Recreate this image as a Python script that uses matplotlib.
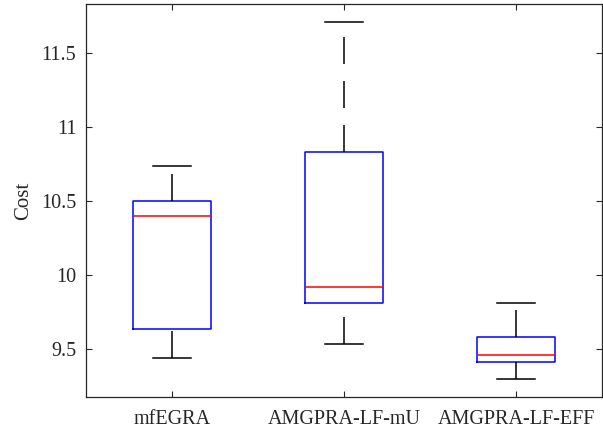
import numpy as np
import matplotlib
matplotlib.use('Agg')
import matplotlib.pyplot as plt

# box statistics
labels = ['mfEGRA', 'AMGPRA-LF-mU', 'AMGPRA-LF-EFF']
whislo = [9.437, 9.536, 9.295]
q1 = [9.633, 9.811, 9.410]
med = [10.397, 9.919, 9.459]
q3 = [10.500, 10.827, 9.579]
whishi = [10.734, 11.709, 9.813]

plt.rcParams['font.family'] = ['Liberation Serif', 'DejaVu Serif']
plt.rcParams['lines.scale_dashes'] = False

fig = plt.figure(figsize=(6.03, 4.36), dpi=100)
ax = fig.add_axes([86 / 603, 1 - 397 / 436, 516 / 603, 393 / 436])

stats = []
for i in range(len(labels)):
    stats.append(dict(label=labels[i], whislo=whislo[i], q1=q1[i], med=med[i],
                      q3=q3[i], whishi=whishi[i], fliers=[]))

px = 0.72  # points per pixel at 100 dpi
bp = ax.bxp(stats, positions=[1, 2, 3], widths=0.452, showfliers=False,
            boxprops=dict(color='#0000ff', linewidth=1.1),
            medianprops=dict(color='#ff0000', linewidth=1.1),
            whiskerprops=dict(color='black', linewidth=1.1,
                              linestyle=(0, (27 * px, 17 * px))),
            capprops=dict(color='black', linewidth=1.1))

# MATLAB draws the lower whisker from the cap towards the box
for k, w in enumerate(bp['whiskers']):
    if k % 2 == 0:
        w.set_ydata(w.get_ydata()[::-1])

ax.set_xlim(0.5, 3.5)
ax.set_ylim(9.176, 11.829)
ax.set_yticks([9.5, 10, 10.5, 11, 11.5])
ax.set_yticklabels(['9.5', '10', '10.5', '11', '11.5'])
ax.set_xticks([1, 2, 3])
ax.set_xticklabels(labels)
ax.set_ylabel('Cost', fontsize=15, labelpad=6, color='#262626')

ax.tick_params(direction='in', length=4.5, width=0.8, colors='#262626',
               labelsize=14.5, top=True, right=True, pad=7)
ax.tick_params(axis='x', pad=9)
for s in ax.spines.values():
    s.set_color('#262626')
    s.set_linewidth(0.9)

fig.savefig('out.png', dpi=100)
